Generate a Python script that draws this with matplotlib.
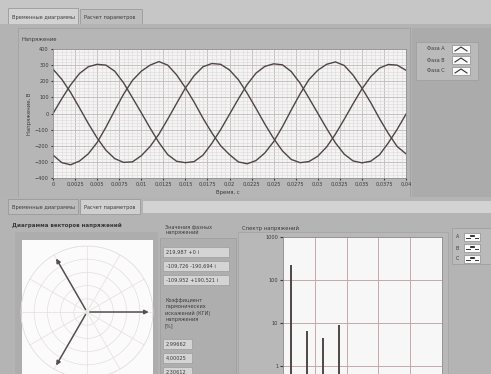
import matplotlib
matplotlib.use("Agg")
import matplotlib.pyplot as plt
import numpy as np
from matplotlib.patches import Rectangle
from matplotlib.lines import Line2D
from matplotlib.ticker import MultipleLocator, FixedLocator, NullFormatter

W, H = 491, 374

# --- data ---
t_ms = np.arange(0, 41)           # sample times, ms (0 .. 40 ms)
phase_a = [0, 92, 178, 248, 290, 305, 300, 262, 190, 98, 5, -90, -180, -255, -296, -305,
           -298, -258, -185, -100, -5, 90, 180, 250, 292, 308, 302, 260, 188, 96, 2,
           -92, -182, -252, -294, -306, -296, -256, -182, -98, -4]
phase_b = [275, 212, 130, 35, -62, -152, -228, -280, -303, -300, -262, -205, -128, -35, 62,
           158, 235, 290, 310, 305, 270, 210, 126, 32, -65, -155, -232, -285, -305, -298,
           -265, -208, -128, -36, 60, 152, 228, 282, 304, 300, 268]
phase_c = [-258, -305, -318, -295, -250, -180, -85, 20, 120, 205, 262, 300, 322, 300, 240,
           160, 70, -30, -120, -200, -255, -300, -312, -292, -245, -175, -82, 22, 122, 210,
           268, 305, 320, 298, 238, 158, 68, -32, -124, -205, -250]
phase_names = ["Фаза A", "Фаза B", "Фаза C"]

x_ticks = [0, 0.0025, 0.005, 0.0075, 0.01, 0.0125, 0.015, 0.0175, 0.02,
           0.0225, 0.025, 0.0275, 0.03, 0.0325, 0.035, 0.0375, 0.04]
x_tick_labels = ["0", "0,0025", "0,005", "0,0075", "0,01", "0,0125", "0,015", "0,0175",
                 "0,02", "0,0225", "0,025", "0,0275", "0,03", "0,0325", "0,035", "0,0375", "0,04"]

vec_mag = [219.987, 219.998, 219.989]
vec_ang = [0.0, -120.0, 120.0]          # degrees
vec_text = ["219,987 +0 i", "-109,726 -190,694 i", "-109,952 +190,521 i"]
thd_text = ["2,99662", "4,00025", "2,30612"]

spec_freq = [50, 150, 250, 350]
spec_amp = [220, 6.5, 4.5, 9.0]

# --- helpers (pixel coords, origin top-left) ---
fig = plt.figure(figsize=(W / 100, H / 100), dpi=100)
fig.patch.set_facecolor("#b3b3b3")


def rect(x0, y0, x1, y1):
    return [x0 / W, 1 - y1 / H, (x1 - x0) / W, (y1 - y0) / H]


def box(x0, y0, x1, y1, fc, ec="none", lw=0.6, z=0):
    fig.add_artist(Rectangle((x0 / W, 1 - y1 / H), (x1 - x0) / W, (y1 - y0) / H,
                             transform=fig.transFigure, facecolor=fc, edgecolor=ec,
                             linewidth=lw, zorder=z))


def txt(x, y, s, size=4.2, **kw):
    fig.text(x / W, 1 - y / H, s, fontsize=size, color=kw.pop("color", "#3a3a3a"),
             va=kw.pop("va", "center"), **kw)


def line(xs, ys, c="#444444", lw=0.8, z=3):
    fig.add_artist(Line2D([x / W for x in xs], [1 - y / H for y in ys],
                          transform=fig.transFigure, color=c, linewidth=lw, zorder=z))


# --- panels / tabs ---
box(0, 0, W, 24, "#c6c6c6")
box(8, 8, 78, 24, "#d2d2d2", "#9a9a9a")
box(80, 9, 142, 24, "#bdbdbd", "#9a9a9a")
txt(12, 17, "Временные диаграммы", 3.6)
txt(84, 17, "Расчет параметров", 3.6)
box(5, 24, W, 197, "#b3b3b3")
box(18, 28, 410, 197, "#b6b6b6", "#a2a2a2")
box(412, 28, W, 197, "#ababab")
box(416, 42, 478, 80, "#bababa", "#a0a0a0")

box(0, 197, W, 374, "#b4b4b4")
box(8, 199, 78, 214, "#bcbcbc", "#9a9a9a")
box(80, 199, 140, 214, "#cfcfcf", "#9a9a9a")
box(142, 200, W, 213, "#d3d3d3", "#b0b0b0")
txt(12, 207, "Временные диаграммы", 3.6)
txt(84, 207, "Расчет параметров", 3.6)
box(15, 232, 158, 374, "#adadad")
box(160, 238, 236, 374, "#aeaeae", "#a0a0a0")
box(238, 232, 448, 374, "#b8b8b8", "#a6a6a6")
box(452, 228, W, 264, "#bababa", "#a0a0a0")

# --- waveform chart ---
ax = fig.add_axes(rect(53, 49, 406, 178))
t = t_ms / 1000.0
for y in (phase_a, phase_b, phase_c):
    ax.plot(t, y, color="#4f4646", lw=1.0)
ax.set_xlim(0, 0.04)
ax.set_ylim(-400, 400)
ax.set_facecolor("#f4f4f4")
ax.set_xticks(x_ticks)
ax.set_xticklabels(x_tick_labels)
ax.yaxis.set_major_locator(MultipleLocator(100))
ax.xaxis.set_minor_locator(MultipleLocator(0.0005))
ax.yaxis.set_minor_locator(MultipleLocator(20))
ax.grid(which="major", color="#c4b8b8", lw=0.6)
ax.grid(which="minor", color="#dcd9d9", lw=0.4)
ax.set_axisbelow(True)
ax.tick_params(labelsize=3.6, length=1.5, pad=1.5, colors="#3a3a3a", which="major")
ax.tick_params(which="minor", length=0)
for s in ax.spines.values():
    s.set_color("#8a8a8a")
    s.set_linewidth(0.5)
ax.set_ylabel("Напряжение, В", fontsize=3.8, labelpad=2, color="#3a3a3a")
txt(22, 40, "Напряжение", 3.8)
txt(216, 192, "Время, с", 3.8)

# legend
for i, name in enumerate(phase_names):
    yy = 49 + i * 11
    txt(427, yy, name, 3.5)
    box(452, yy - 4, 470, yy + 4, "#fafafa", "#8c8c8c", 0.5, z=2)
    line([455, 461, 467], [yy + 2, yy - 2, yy + 2], "#333333", 0.8)

# --- phasor diagram ---
txt(12, 225, "Диаграмма векторов напряжений", 4.0, weight="bold")
box(22, 240, 153, 374, "#fbfbfb", z=0)
axp = fig.add_axes(rect(21, 245, 153, 379), projection="polar")
axp.set_facecolor("none")
for m, a in zip(vec_mag, vec_ang):
    axp.annotate("", xy=(np.radians(a), m), xytext=(0, 0),
                 arrowprops=dict(arrowstyle="-|>", color="#555050", lw=1.1,
                                 mutation_scale=6))
axp.set_rlim(0, 225)
axp.set_rticks([45, 90, 135, 180, 225])
axp.set_thetagrids(np.arange(0, 360, 30), labels=[])
axp.yaxis.set_major_formatter(NullFormatter())
axp.grid(color="#e6dddd", lw=0.5)
axp.spines["polar"].set_color("#e6dddd")
axp.spines["polar"].set_linewidth(0.5)

# --- phase values and THD ---
txt(165, 230, "Значения фазных\nнапряжений", 3.6)
for i, s in enumerate(vec_text):
    yy = 252 + i * 14
    box(163, yy - 5, 229, yy + 5, "#d4d4d4", "#9c9c9c", 0.5)
    txt(166, yy, s, 3.6)
txt(165, 313, "Коэффициент\nгармонических\nискажений (КГИ)\nнапряжения\n[%]", 3.6,
    linespacing=1.35)
for i, s in enumerate(thd_text):
    yy = 344 + i * 14
    box(163, yy - 5, 192, yy + 5, "#d4d4d4", "#9c9c9c", 0.5)
    txt(166, yy, s, 3.6)

# --- spectrum ---
txt(242, 228, "Спектр напряжений", 3.8)
axs = fig.add_axes(rect(283, 237, 442, 409))
axs.set_yscale("log")
axs.vlines(spec_freq, 0.1, spec_amp, color="#4f4747", lw=1.4)
axs.set_xlim(0, 1000)
axs.set_ylim(0.1, 1000)
axs.set_facecolor("#f7f7f7")
axs.xaxis.set_major_locator(MultipleLocator(200))
axs.yaxis.set_major_locator(FixedLocator([1, 10, 100, 1000]))
axs.set_yticklabels(["1", "10", "100", "1000"])
axs.yaxis.set_minor_locator(FixedLocator([]))
axs.grid(which="major", color="#c4a9a9", lw=0.7)
axs.tick_params(labelsize=3.6, length=2, pad=1.5, colors="#3a3a3a")
axs.tick_params(axis="x", labelbottom=False)
for s in axs.spines.values():
    s.set_color("#8a8a8a")
    s.set_linewidth(0.5)

for i, name in enumerate(["A", "B", "C"]):
    yy = 237 + i * 11
    txt(456, yy, name, 3.4)
    box(464, yy - 4, 480, yy + 4, "#fafafa", "#8c8c8c", 0.5, z=2)
    line([466, 470], [yy + 1, yy + 1], "#333333", 0.7)
    line([471, 474], [yy - 1, yy - 1], "#111111", 1.2)
    line([475, 478], [yy + 1, yy + 1], "#333333", 0.7)

fig.savefig("out.png", dpi=100, facecolor=fig.get_facecolor())
